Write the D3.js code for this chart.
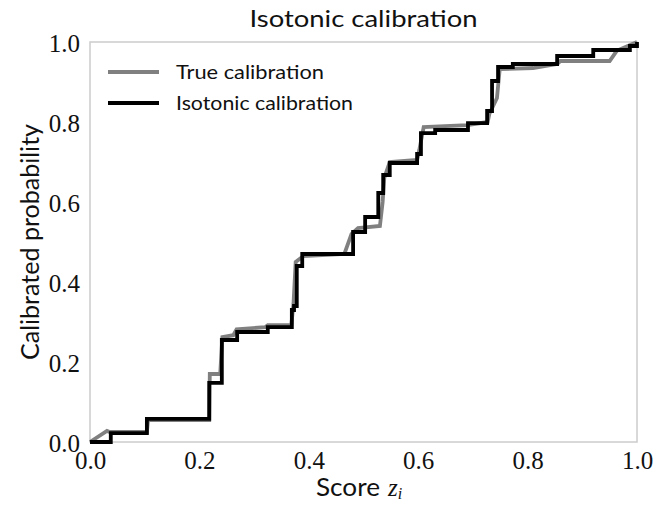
<!DOCTYPE html>
<html><head><meta charset="utf-8">
<script src="https://cdn.jsdelivr.net/npm/d3@7"></script>
<style>body{margin:0;background:#fff}</style>
</head><body>
<script>
// ---- data ----
const isoX = [0, 0.038, 0.104, 0.218, 0.241, 0.269, 0.325, 0.369, 0.373, 0.378, 0.388, 0.481, 0.503, 0.527, 0.536, 0.548, 0.598, 0.605, 0.631, 0.691, 0.726, 0.735, 0.746, 0.773, 0.854, 0.92, 0.987, 1.0];
const isoY = [0, 0.022, 0.058, 0.148, 0.255, 0.275, 0.287, 0.33, 0.34, 0.44, 0.47, 0.525, 0.5625, 0.6225, 0.6675, 0.6975, 0.72, 0.772, 0.78, 0.797, 0.8275, 0.9025, 0.9375, 0.945, 0.965, 0.98, 0.99, 1.0];
const trueX = [0, 0.031, 0.036, 0.104, 0.106, 0.218, 0.219, 0.238, 0.242, 0.262, 0.268, 0.32, 0.325, 0.368, 0.372, 0.376, 0.39, 0.465, 0.478, 0.49, 0.53, 0.535, 0.538, 0.548, 0.598, 0.602, 0.61, 0.69, 0.727, 0.73, 0.744, 0.749, 0.81, 0.854, 0.86, 0.95, 0.963, 1.0];
const trueY = [0, 0.028, 0.025, 0.025, 0.055, 0.055, 0.17, 0.17, 0.262, 0.267, 0.282, 0.287, 0.292, 0.292, 0.345, 0.45, 0.465, 0.47, 0.52, 0.535, 0.54, 0.6, 0.66, 0.7, 0.705, 0.73, 0.787, 0.792, 0.80, 0.82, 0.86, 0.932, 0.935, 0.945, 0.9525, 0.9525, 0.978, 1.0];
const xTicks = [0, 0.2, 0.4, 0.6, 0.8, 1.0];
const yTicks = [0, 0.2, 0.4, 0.6, 0.8, 1.0];
const seriesNames = ["True calibration", "Isotonic calibration"];
const seriesColors = ["#808080", "#000000"];

const W = 656, H = 506;
const m = {l: 90, r: 637, t: 42, b: 442};
const svg = d3.select("body").append("svg").attr("width", W).attr("height", H);
const x = d3.scaleLinear().domain([0, 1]).range([m.l, m.r]);
const y = d3.scaleLinear().domain([0, 1]).range([m.b, m.t]);

const serif = "'Liberation Serif', 'DejaVu Serif', serif";
const sans = "Lato, 'Open Sans', sans-serif";

// frame
svg.append("rect").attr("x", m.l).attr("y", m.t).attr("width", m.r - m.l).attr("height", m.b - m.t)
  .attr("fill", "none").attr("stroke", "#cccccc").attr("stroke-width", 1.5);

// series
const trueData = trueX.map((d, i) => [d, trueY[i]]);
const isoData = isoX.map((d, i) => [d, isoY[i]]);
const g = svg.append("g");
g.append("path").datum(trueData)
  .attr("d", d3.line().x(d => x(d[0])).y(d => y(d[1])).curve(d3.curveLinear))
  .attr("fill", "none").attr("stroke", seriesColors[0]).attr("stroke-width", 3.8).attr("stroke-linejoin", "miter");
g.append("path").datum(isoData)
  .attr("d", d3.line().x(d => x(d[0])).y(d => y(d[1])).curve(d3.curveStepAfter))
  .attr("fill", "none").attr("stroke", seriesColors[1]).attr("stroke-width", 3.8).attr("stroke-linejoin", "miter");

// axes (labels only)
const xAxis = svg.append("g").attr("transform", `translate(0,${m.b})`)
  .call(d3.axisBottom(x).tickValues(xTicks).tickFormat(d3.format(".1f")).tickSize(0).tickPadding(9));
const yAxis = svg.append("g").attr("transform", `translate(${m.l},0)`)
  .call(d3.axisLeft(y).tickValues(yTicks).tickFormat(d3.format(".1f")).tickSize(0).tickPadding(10));
[xAxis, yAxis].forEach(a => {
  a.select(".domain").remove();
  a.selectAll("text").attr("font-family", serif).attr("font-size", 25).attr("fill", "#111");
});
yAxis.selectAll("text").attr("dy", "0.36em");

// title
svg.append("text").attr("x", (m.l + m.r) / 2).attr("y", 27).attr("text-anchor", "middle")
  .attr("font-family", sans).attr("font-size", 24).attr("fill", "#111")
  .attr("textLength", 228).attr("lengthAdjust", "spacingAndGlyphs")
  .text("Isotonic calibration");

// y label
svg.append("text").attr("transform", `translate(39,${(m.t + m.b) / 2}) rotate(-90)`)
  .attr("text-anchor", "middle").attr("font-family", sans).attr("font-size", 25).attr("fill", "#111")
  .attr("textLength", 236).attr("lengthAdjust", "spacingAndGlyphs")
  .text("Calibrated probability");

// x label
const xl = svg.append("text").attr("x", 316).attr("y", 496)
  .attr("font-family", sans).attr("font-size", 25).attr("fill", "#111");
xl.append("tspan").attr("textLength", 64).attr("lengthAdjust", "spacingAndGlyphs").text("Score");
xl.append("tspan").attr("dx", 8).attr("font-family", serif).attr("font-style", "italic").text("z");
xl.append("tspan").attr("font-family", serif).attr("font-style", "italic").attr("font-size", 16).attr("dy", 3).text("i");

// legend
const leg = svg.append("g");
seriesNames.forEach((name, i) => {
  const yy = 72 + i * 31;
  leg.append("line").attr("x1", 108).attr("x2", 159).attr("y1", yy).attr("y2", yy)
    .attr("stroke", seriesColors[i]).attr("stroke-width", 3.8);
  leg.append("text").attr("x", 176).attr("y", yy + 6.5).attr("font-family", sans).attr("font-size", 19)
    .attr("fill", "#111").attr("textLength", i === 0 ? 148 : 177).attr("lengthAdjust", "spacingAndGlyphs")
    .text(name);
});
</script>
</body></html>
